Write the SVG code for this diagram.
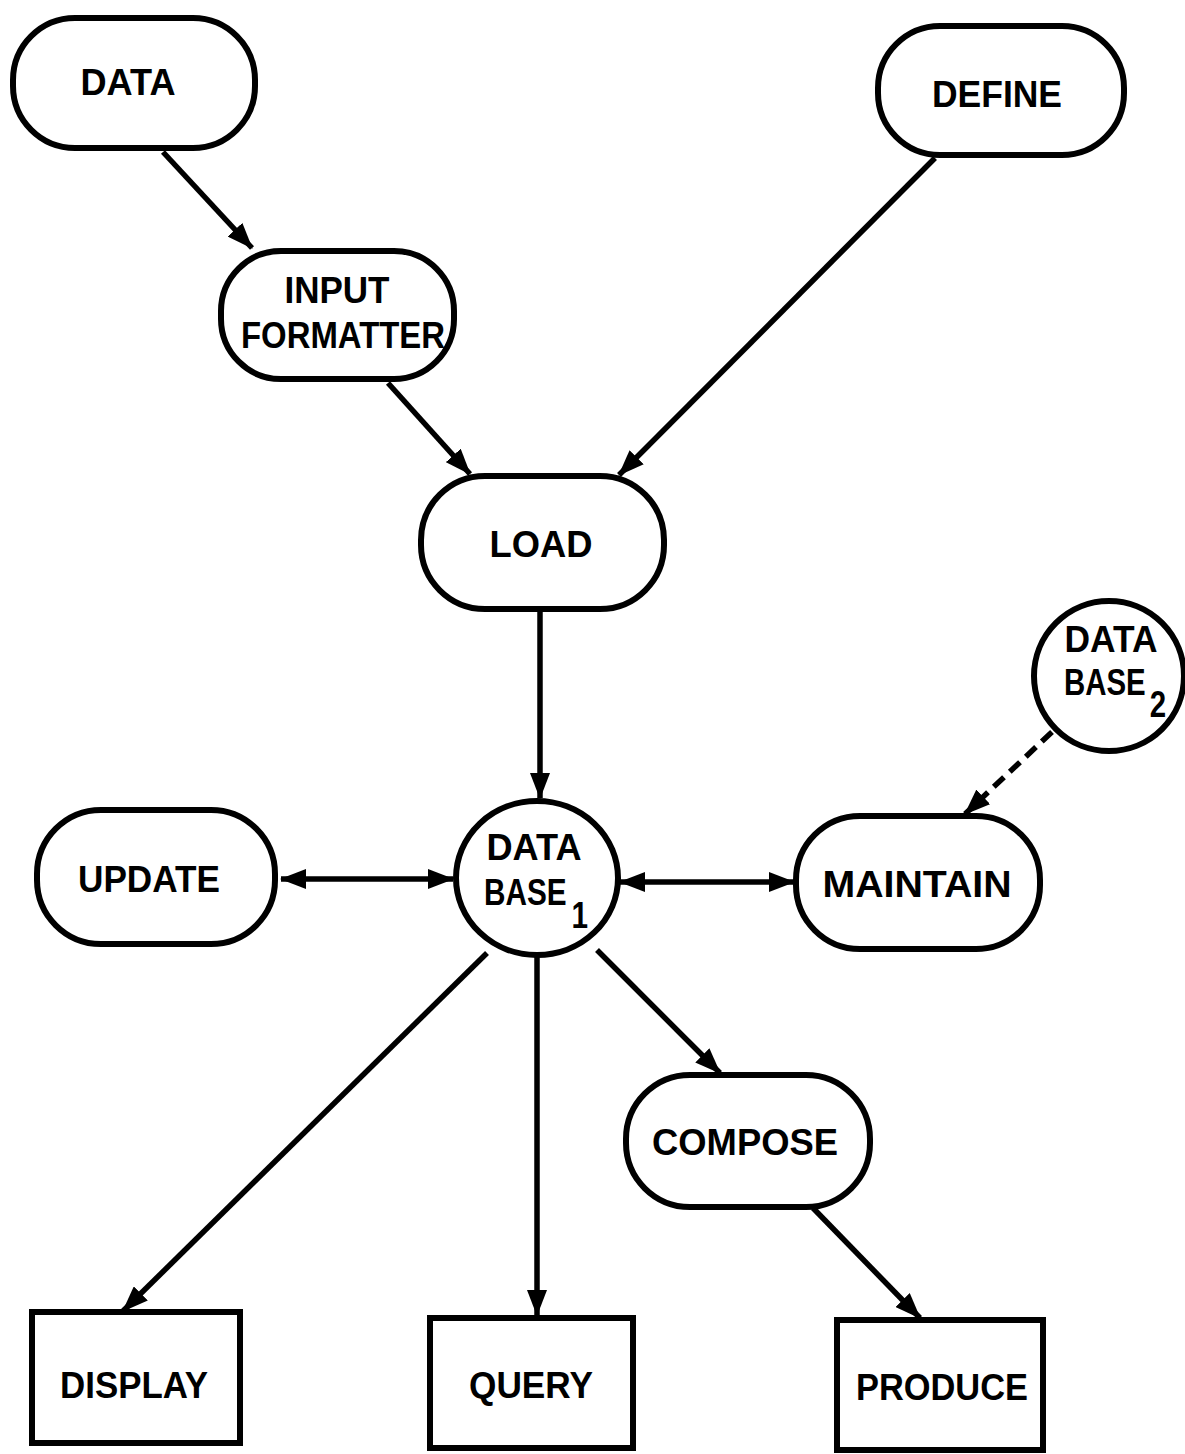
<svg xmlns="http://www.w3.org/2000/svg" width="1185" height="1454" viewBox="0 0 1185 1454">
<style>
.n{fill:#fff;stroke:#000;stroke-width:6}
.t{font-family:"Liberation Sans",Arial,sans-serif;font-weight:bold;font-size:37px;fill:#000;text-anchor:middle}
.l{text-anchor:start}
.c{fill:none;stroke:#000;stroke-width:5.5}
.d{stroke-dasharray:14 8}
</style>
<defs>
<marker id="ah" markerUnits="userSpaceOnUse" markerWidth="26" markerHeight="20" refX="25" refY="10" orient="auto-start-reverse" viewBox="0 0 26 20">
<path d="M0,0 L26,10 L0,20 z" fill="#000"/>
</marker>
</defs>
<rect width="1185" height="1454" fill="#fff"/>
<g id="connectors">
<line class="c" x1="163" y1="152" x2="252" y2="248" marker-end="url(#ah)"/>
<line class="c" x1="388" y1="383" x2="470" y2="474" marker-end="url(#ah)"/>
<line class="c" x1="935" y1="158" x2="619" y2="475" marker-end="url(#ah)"/>
<line class="c" x1="540" y1="610" x2="540" y2="798" marker-end="url(#ah)"/>
<line class="c" x1="281" y1="879" x2="453" y2="879" marker-start="url(#ah)" marker-end="url(#ah)"/>
<line class="c" x1="620" y1="882" x2="794" y2="882" marker-start="url(#ah)" marker-end="url(#ah)"/>
<line class="c d" x1="1052" y1="732" x2="965" y2="814" marker-end="url(#ah)"/>
<line class="c" x1="487" y1="953" x2="123" y2="1311" marker-end="url(#ah)"/>
<line class="c" x1="537" y1="957" x2="537" y2="1315" marker-end="url(#ah)"/>
<line class="c" x1="597" y1="950" x2="720" y2="1073" marker-end="url(#ah)"/>
<line class="c" x1="813" y1="1208" x2="920" y2="1318" marker-end="url(#ah)"/>
</g>
<g id="data">
<rect class="n" x="13" y="18" width="242" height="130" rx="62"/>
<text class="t" x="128" y="95" textLength="95" lengthAdjust="spacingAndGlyphs">DATA</text>
</g>
<g id="define">
<rect class="n" x="878" y="26" width="246" height="129" rx="62"/>
<text class="t" x="997" y="107" textLength="130" lengthAdjust="spacingAndGlyphs">DEFINE</text>
</g>
<g id="input-formatter">
<rect class="n" x="221" y="251" width="233" height="128" rx="60"/>
<text class="t" x="337" y="303" textLength="105" lengthAdjust="spacingAndGlyphs">INPUT</text>
<text class="t" x="343" y="348" textLength="204" lengthAdjust="spacingAndGlyphs">FORMATTER</text>
</g>
<g id="load">
<rect class="n" x="421" y="476" width="243" height="133" rx="64"/>
<text class="t" x="541" y="557" textLength="103" lengthAdjust="spacingAndGlyphs">LOAD</text>
</g>
<g id="update">
<rect class="n" x="37" y="810" width="238" height="134" rx="64"/>
<text class="t" x="149" y="892" textLength="142" lengthAdjust="spacingAndGlyphs">UPDATE</text>
</g>
<g id="database1">
<ellipse class="n" cx="537" cy="878" rx="81" ry="77"/>
<text class="t" x="534" y="860" textLength="95" lengthAdjust="spacingAndGlyphs">DATA</text>
<text class="t l" x="484" y="905" textLength="104" lengthAdjust="spacingAndGlyphs">BASE<tspan dx="6" dy="23">1</tspan></text>
</g>
<g id="maintain">
<rect class="n" x="796" y="816" width="244" height="133" rx="64"/>
<text class="t" x="917" y="897" textLength="189" lengthAdjust="spacingAndGlyphs">MAINTAIN</text>
</g>
<g id="database2">
<circle class="n" cx="1109" cy="676" r="75"/>
<text class="t" x="1111" y="652" textLength="93" lengthAdjust="spacingAndGlyphs">DATA</text>
<text class="t l" x="1064" y="695" textLength="102" lengthAdjust="spacingAndGlyphs">BASE<tspan dx="5" dy="22">2</tspan></text>
</g>
<g id="compose">
<rect class="n" x="626" y="1075" width="244" height="132" rx="64"/>
<text class="t" x="745" y="1155" textLength="186" lengthAdjust="spacingAndGlyphs">COMPOSE</text>
</g>
<g id="display">
<rect class="n" x="32" y="1312" width="208" height="131"/>
<text class="t" x="134" y="1398" textLength="148" lengthAdjust="spacingAndGlyphs">DISPLAY</text>
</g>
<g id="query">
<rect class="n" x="430" y="1318" width="203" height="130"/>
<text class="t" x="531" y="1398" textLength="124" lengthAdjust="spacingAndGlyphs">QUERY</text>
</g>
<g id="produce">
<rect class="n" x="837" y="1320" width="206" height="130"/>
<text class="t" x="942" y="1400" textLength="172" lengthAdjust="spacingAndGlyphs">PRODUCE</text>
</g>
</svg>
